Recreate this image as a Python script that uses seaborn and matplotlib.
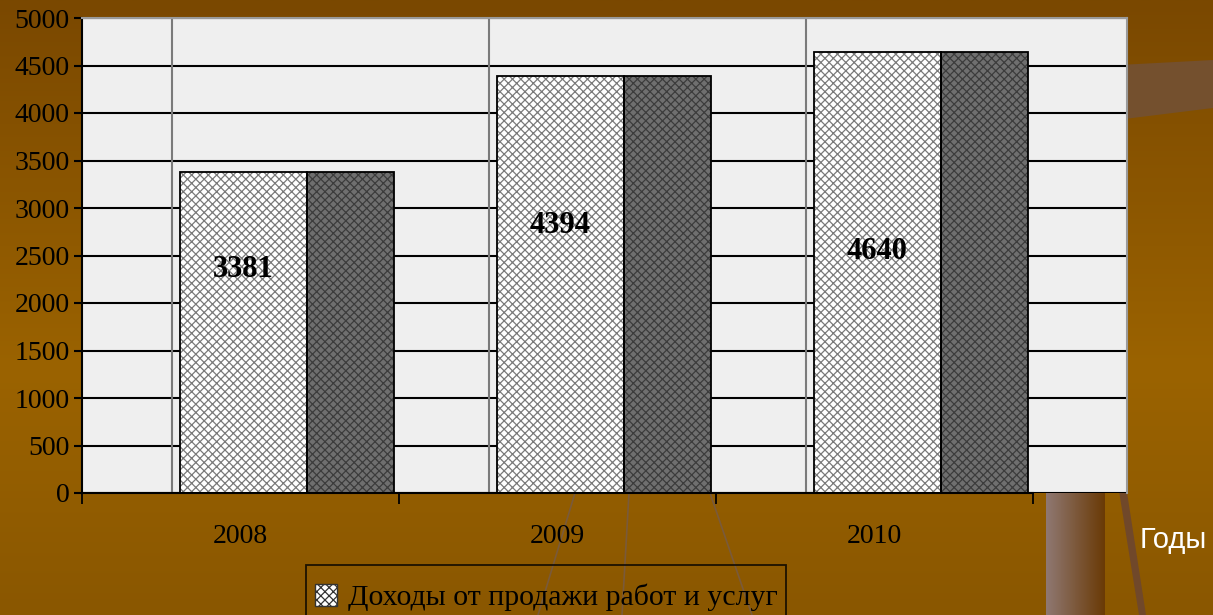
import numpy as np
import pandas as pd
import seaborn as sns
import matplotlib.pyplot as plt
from matplotlib.patches import Rectangle, Patch, Polygon
from matplotlib.colors import LinearSegmentedColormap


years = ["2008", "2009", "2010"]
income = [3381, 4394, 4640]
second = [3381, 4394, 4640]
series_names = ["Доходы от продажи работ и услуг", "Ряд 2"]
y_ticks = list(range(0, 5001, 500))
label_y = [2350, 2820, 2540]   # where the value labels sit inside the bars

df = pd.DataFrame({
    "year": years * 2,
    "value": income + second,
    "series": [series_names[0]] * 3 + [series_names[1]] * 3,
})

sns.set_style("white")
plt.rcParams["font.family"] = ["Liberation Serif", "DejaVu Serif"]
plt.rcParams["hatch.linewidth"] = 0.9

fig = plt.figure(figsize=(12.13, 6.15), dpi=100)

# slide background (brown gradient + decorations), in pixel coords
bg = fig.add_axes([0, 0, 1, 1], zorder=-10)
bg_cmap = LinearSegmentedColormap.from_list(
    "bg", [(0, "#7a4800"), (0.6, "#9b6300"), (1, "#8a5700")])
bg.imshow(np.linspace(0, 1, 256).reshape(-1, 1), cmap=bg_cmap,
          aspect="auto", extent=(0, 1213, 615, 0))
pillar_cmap = LinearSegmentedColormap.from_list("pillar", ["#8f7872", "#6a3a06"])
bg.imshow(np.linspace(0, 1, 64).reshape(1, -1), cmap=pillar_cmap,
          aspect="auto", extent=(1046, 1105, 615, 493))
bg.add_patch(Polygon([(1100, 66), (1213, 60), (1213, 108), (1100, 122)],
                     color="#74502e", lw=0))
bg.add_patch(Polygon([(1114, 460), (1122, 460), (1146, 615), (1139, 615)],
                     color="#70482a", lw=0))
for x0, x1 in [(575, 538), (629, 622), (710, 752)]:
    bg.plot([x0, x1], [493, 615], color="#7a5a3a", lw=1.2)
bg.set_xlim(0, 1213)
bg.set_ylim(615, 0)
bg.axis("off")

ax = fig.add_axes([82 / 1213, 1 - 493 / 615, (1127 - 82) / 1213, 475 / 615])
ax.set_facecolor("#efefef")

sns.barplot(data=df, x="year", y="value", hue="series",
            palette=["white", "#6f6f6f"], saturation=1, dodge=True,
            legend=False, width=0.8, ax=ax)

hatch_cols = ["#7a7a7a", "#3c3c3c"]
for k, cont in enumerate(ax.containers):
    for i, bar in enumerate(cont):
        if k == 0:
            bar.set_x(i - 0.19)
            bar.set_width(0.40)
        else:
            bar.set_x(i + 0.21)
            bar.set_width(0.275)
        bar.set_hatch("xxxx")
        bar.set_edgecolor(hatch_cols[k])
        bar.set_linewidth(0)
        bar.set_zorder(2)
        ax.add_patch(Rectangle((bar.get_x(), 0), bar.get_width(), bar.get_height(),
                               fill=False, edgecolor="black", lw=1.3, zorder=3))

for i, bar in enumerate(ax.containers[0]):
    ax.text(bar.get_x() + bar.get_width() / 2, label_y[i], f"{income[i]}",
            ha="center", va="center", fontsize=22, fontweight="bold",
            color="black", zorder=4)

for i in range(len(years)):
    ax.axvline(i - 0.215, color="#7a7a7a", lw=1.5, zorder=1)

ax.set_ylim(0, 5000)
ax.set_xlim(-0.5, 2.797)
ax.set_yticks(y_ticks)
ax.yaxis.grid(True, color="black", lw=1.5)
ax.xaxis.grid(False)
ax.set_axisbelow(True)

ax.set_xticks(range(len(years)))
ax.set_xticklabels(years)
ax.set_xticks([-0.5, 0.5, 1.5, 2.5], minor=True)
ax.tick_params(axis="x", which="major", bottom=True, length=0, pad=22,
               labelsize=20, labelcolor="black")
ax.tick_params(axis="x", which="minor", bottom=True, length=8, width=1.3,
               direction="out", color="black")
ax.tick_params(axis="y", left=True, length=6, width=1.5, direction="out",
               pad=3, labelsize=20, labelcolor="black", color="black")
ax.set_xlabel("")
ax.set_ylabel("")

for side in ["top", "right"]:
    ax.spines[side].set_color("#9a9a9a")
    ax.spines[side].set_linewidth(1.5)
for side in ["left", "bottom"]:
    ax.spines[side].set_color("black")
    ax.spines[side].set_linewidth(1.5)
ax.spines["bottom"].set_bounds(-0.5, 2.5)

fig.text(1140 / 1213, 1 - 540 / 615, "Годы", color="white", fontsize=21,
         family=["Liberation Sans", "DejaVu Sans"], ha="left", va="center")

# a tiny blank title only pushes the entry down inside the box
handle = Patch(facecolor="white", edgecolor="#333333", hatch="xxxx")
leg = fig.legend(handles=[handle], labels=[series_names[0]],
                 loc="upper center", bbox_to_anchor=(546 / 1213, 1 - 565 / 615),
                 borderaxespad=0, frameon=True, fancybox=False, fontsize=21.5,
                 title=" ", title_fontsize=1, labelspacing=0.3,
                 handlelength=0.75, handleheight=0.75, handletextpad=0.35,
                 borderpad=0.3, edgecolor="black")
leg.get_frame().set_facecolor("none")
leg.get_frame().set_linewidth(1.3)
for t in leg.get_texts():
    t.set_color("black")

fig.savefig("out.png", dpi=100)
